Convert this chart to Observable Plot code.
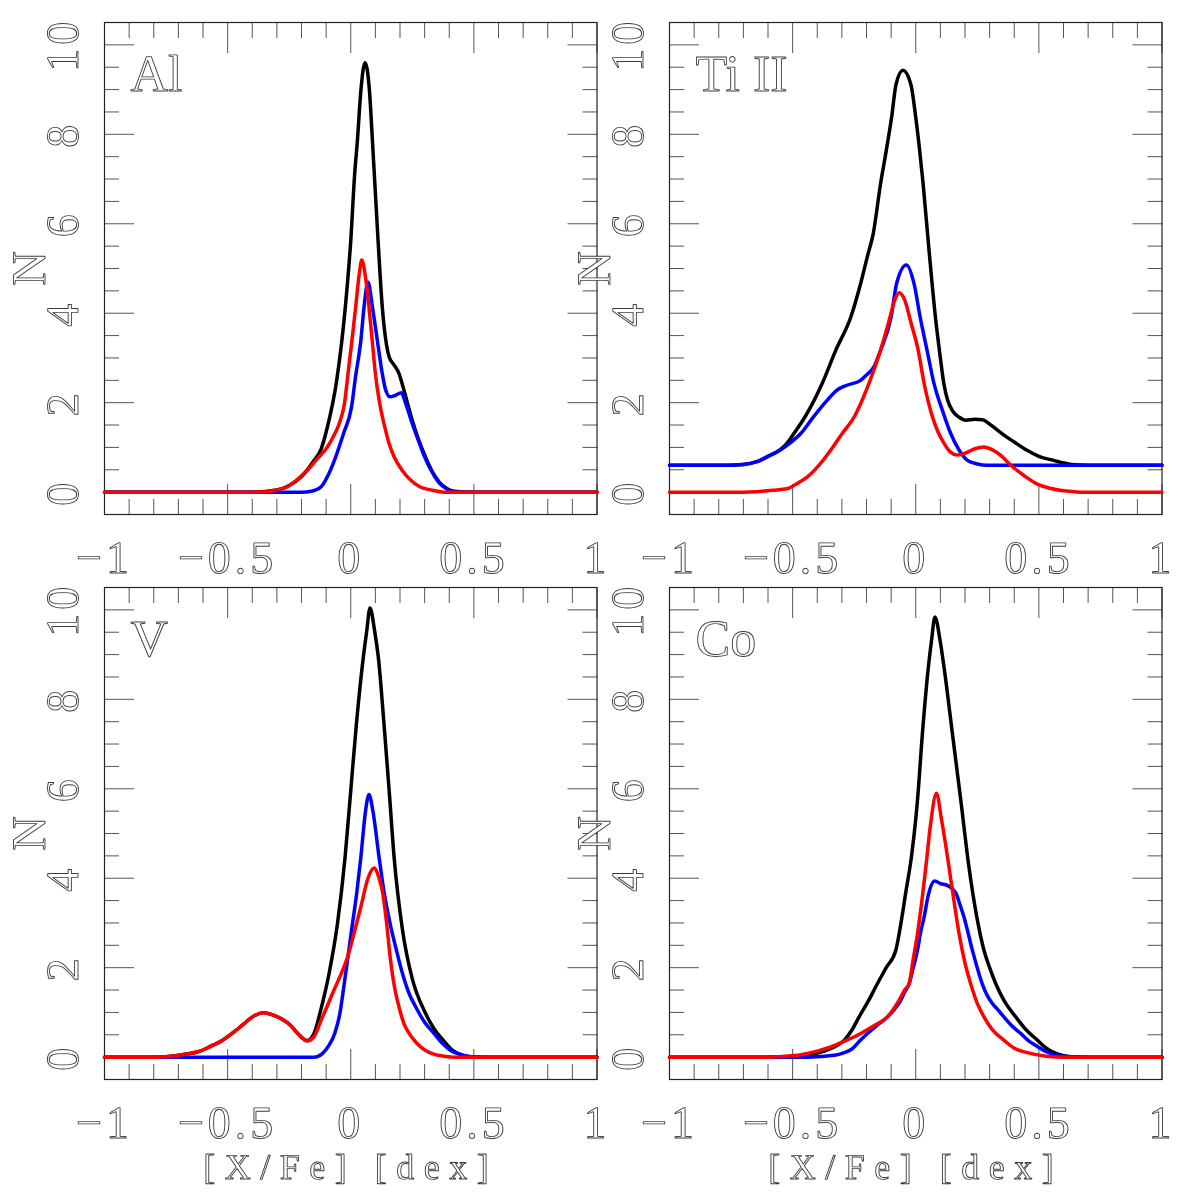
<!DOCTYPE html>
<html>
<head>
<meta charset="utf-8">
<script src="https://cdn.jsdelivr.net/npm/d3@7"></script>
<script src="https://cdn.jsdelivr.net/npm/@observablehq/plot@0.6"></script>
<style>
  body { margin: 0; background: #fff; }
  #chart { position: relative; width: 1181px; height: 1197px; background: #fff; }
  #chart svg { position: absolute; overflow: visible; will-change: transform; }
  #chart svg text { text-rendering: geometricPrecision; }
</style>
</head>
<body>
<div id="chart"></div>
<script>
// ---- tick values ----
const xMajor = [-1, -0.5, 0, 0.5, 1];
const xMinor = [-0.9, -0.8, -0.7, -0.6, -0.4, -0.3, -0.2, -0.1, 0.1, 0.2, 0.3, 0.4, 0.6, 0.7, 0.8, 0.9];
const yMajor = [0, 2, 4, 6, 8, 10];
const yMinor = [-0.5, 0.5, 1, 1.5, 2.5, 3, 3.5, 4.5, 5, 5.5, 6.5, 7, 7.5, 8.5, 9, 9.5, 10.5];
const panelLabels = ["Al", "Ti II", "V", "Co"];
const yTitle = "N";
const xTitle = "[X/Fe] [dex]";

// ---- Al ----
const alBlack = [[-1,0],[-0.4,0],[-0.3,0.05],[-0.25,0.15],[-0.2,0.35],[-0.15,0.7],[-0.12,0.97],[-0.095,1.45],[-0.057,2.5],[-0.022,4.14],[0,5.62],[0.016,7.12],[0.027,7.86],[0.041,8.97],[0.058,9.6],[0.076,8.97],[0.088,7.86],[0.111,5.62],[0.128,4.14],[0.145,3.3],[0.156,3.02],[0.175,2.85],[0.196,2.65],[0.215,2.3],[0.23,2.0],[0.25,1.6],[0.275,1.18],[0.3,0.83],[0.33,0.47],[0.36,0.22],[0.39,0.08],[0.42,0.02],[0.5,0],[1,0]];
const alBlue = [[-1,0],[-0.2,0],[-0.16,0.02],[-0.12,0.12],[-0.09,0.4],[-0.061,0.79],[-0.03,1.3],[0.003,1.9],[0.02,2.6],[0.041,3.39],[0.054,4.14],[0.07,4.7],[0.088,4.14],[0.108,3.39],[0.128,2.65],[0.142,2.28],[0.16,2.13],[0.18,2.16],[0.205,2.22],[0.225,1.95],[0.25,1.53],[0.275,1.15],[0.3,0.79],[0.33,0.45],[0.36,0.2],[0.39,0.07],[0.42,0],[1,0]];
const alRed = [[-1,0],[-0.4,0],[-0.34,0.01],[-0.3,0.05],[-0.257,0.12],[-0.22,0.27],[-0.176,0.49],[-0.14,0.72],[-0.095,1.01],[-0.07,1.25],[-0.047,1.53],[-0.025,2.0],[-0.011,2.65],[0.005,3.4],[0.02,4.14],[0.035,4.9],[0.045,5.19],[0.06,4.8],[0.074,4.14],[0.087,3.4],[0.1,2.65],[0.117,2.0],[0.135,1.53],[0.155,1.1],[0.176,0.79],[0.21,0.48],[0.243,0.27],[0.28,0.12],[0.325,0.05],[0.38,0],[1,0]];

// ---- Ti II ----
const tiBlack = [[-1,0.6],[-0.8,0.6],[-0.7,0.62],[-0.645,0.68],[-0.6,0.8],[-0.55,0.95],[-0.523,1.09],[-0.49,1.35],[-0.45,1.68],[-0.38,2.43],[-0.325,3.17],[-0.264,3.91],[-0.224,4.66],[-0.195,5.3],[-0.173,5.77],[-0.143,6.89],[-0.12,7.63],[-0.098,8.38],[-0.08,9.12],[-0.052,9.43],[-0.02,9.12],[0,8.38],[0.016,7.63],[0.03,6.89],[0.054,5.4],[0.08,3.91],[0.1,3.0],[0.114,2.43],[0.13,2.05],[0.148,1.83],[0.175,1.68],[0.203,1.61],[0.24,1.63],[0.27,1.62],[0.31,1.48],[0.35,1.31],[0.4,1.12],[0.45,0.94],[0.5,0.8],[0.56,0.71],[0.62,0.63],[0.7,0.6],[1,0.6]];
const tiBlue = [[-1,0.6],[-0.8,0.6],[-0.7,0.62],[-0.645,0.68],[-0.6,0.8],[-0.55,0.94],[-0.51,1.1],[-0.467,1.31],[-0.42,1.65],[-0.36,2.05],[-0.32,2.28],[-0.28,2.39],[-0.224,2.5],[-0.2,2.62],[-0.17,2.8],[-0.143,3.17],[-0.1,3.91],[-0.078,4.66],[-0.038,5.08],[-0.007,4.66],[0.018,3.91],[0.046,3.17],[0.074,2.43],[0.11,1.8],[0.142,1.31],[0.175,0.95],[0.21,0.71],[0.25,0.63],[0.29,0.6],[1,0.6]];
const tiRed = [[-1,0],[-0.7,0],[-0.645,0.01],[-0.58,0.04],[-0.52,0.08],[-0.48,0.2],[-0.44,0.34],[-0.39,0.62],[-0.345,0.94],[-0.3,1.3],[-0.25,1.68],[-0.19,2.43],[-0.143,3.17],[-0.11,3.8],[-0.085,4.3],[-0.068,4.46],[-0.045,4.3],[-0.02,3.8],[0.01,3.17],[0.034,2.43],[0.068,1.68],[0.09,1.35],[0.115,1.09],[0.14,0.9],[0.168,0.83],[0.2,0.87],[0.24,0.97],[0.276,1.01],[0.31,0.95],[0.35,0.8],[0.386,0.6],[0.44,0.37],[0.49,0.19],[0.55,0.08],[0.6,0.03],[0.7,0],[1,0]];

// ---- V ----
const vBlack = [[-1,0],[-0.8,0],[-0.73,0.02],[-0.68,0.06],[-0.62,0.12],[-0.57,0.24],[-0.52,0.38],[-0.47,0.58],[-0.433,0.75],[-0.39,0.93],[-0.354,0.99],[-0.32,0.95],[-0.28,0.85],[-0.243,0.7],[-0.21,0.5],[-0.178,0.37],[-0.149,0.53],[-0.122,1.05],[-0.088,1.87],[-0.054,2.98],[-0.023,4.47],[0,5.96],[0.023,7.45],[0.051,8.94],[0.065,9.53],[0.078,10.04],[0.097,9.53],[0.112,8.94],[0.135,7.45],[0.156,5.96],[0.176,4.47],[0.21,2.85],[0.25,1.75],[0.3,1.02],[0.34,0.62],[0.372,0.4],[0.41,0.17],[0.44,0.07],[0.487,0.01],[0.55,0],[1,0]];
const vBlue = [[-1,0],[-0.15,0],[-0.115,0.08],[-0.09,0.25],[-0.065,0.53],[-0.045,0.95],[-0.03,1.5],[-0.01,2.3],[0.007,2.98],[0.025,3.7],[0.041,4.47],[0.06,5.5],[0.074,5.87],[0.09,5.5],[0.115,4.47],[0.135,3.7],[0.16,2.98],[0.185,2.4],[0.21,1.87],[0.235,1.45],[0.264,1.12],[0.3,0.78],[0.338,0.53],[0.37,0.32],[0.406,0.15],[0.44,0.07],[0.473,0.02],[0.52,0],[1,0]];
const vRed = [[-1,0],[-0.8,0],[-0.73,0.02],[-0.68,0.06],[-0.62,0.12],[-0.57,0.24],[-0.52,0.38],[-0.47,0.58],[-0.433,0.75],[-0.39,0.93],[-0.354,0.99],[-0.32,0.95],[-0.28,0.85],[-0.243,0.7],[-0.21,0.5],[-0.178,0.36],[-0.15,0.45],[-0.122,0.8],[-0.095,1.15],[-0.068,1.5],[-0.04,1.85],[-0.013,2.24],[0.015,2.8],[0.041,3.36],[0.07,4.0],[0.095,4.23],[0.115,4.0],[0.128,3.72],[0.146,2.98],[0.16,2.24],[0.18,1.5],[0.196,1.12],[0.216,0.75],[0.237,0.53],[0.27,0.3],[0.304,0.15],[0.34,0.06],[0.378,0.02],[0.43,0],[1,0]];

// ---- Co ----
const coBlack = [[-1,0],[-0.6,0],[-0.466,0.03],[-0.4,0.09],[-0.358,0.16],[-0.32,0.26],[-0.29,0.38],[-0.26,0.6],[-0.23,0.9],[-0.19,1.28],[-0.156,1.64],[-0.12,2.0],[-0.081,2.39],[-0.06,3.0],[-0.04,3.7],[-0.017,4.5],[0.007,5.74],[0.027,7.23],[0.051,8.71],[0.064,9.31],[0.078,9.84],[0.099,9.31],[0.115,8.71],[0.149,7.23],[0.183,5.74],[0.216,4.25],[0.248,3.13],[0.277,2.39],[0.3,2.0],[0.325,1.64],[0.36,1.25],[0.406,0.9],[0.45,0.6],[0.494,0.38],[0.53,0.2],[0.575,0.07],[0.63,0.01],[0.7,0],[1,0]];
const coBlue = [[-1,0],[-0.45,0],[-0.33,0.04],[-0.29,0.1],[-0.257,0.19],[-0.23,0.35],[-0.196,0.53],[-0.155,0.72],[-0.115,0.9],[-0.085,1.08],[-0.061,1.27],[-0.045,1.45],[-0.027,1.64],[-0.01,2.0],[0.007,2.39],[0.02,2.8],[0.034,3.13],[0.05,3.6],[0.077,3.94],[0.1,3.88],[0.128,3.84],[0.162,3.68],[0.18,3.4],[0.196,3.13],[0.23,2.39],[0.27,1.64],[0.29,1.38],[0.311,1.2],[0.335,1.05],[0.358,0.9],[0.39,0.7],[0.426,0.53],[0.46,0.36],[0.494,0.24],[0.53,0.12],[0.575,0.04],[0.63,0.01],[0.7,0],[1,0]];
const coRed = [[-1,0],[-0.6,0],[-0.48,0.04],[-0.41,0.12],[-0.345,0.23],[-0.28,0.38],[-0.223,0.53],[-0.17,0.7],[-0.115,0.9],[-0.068,1.27],[-0.045,1.5],[-0.027,1.64],[-0.01,2.2],[0.007,2.76],[0.025,3.5],[0.041,4.25],[0.06,5.2],[0.084,5.9],[0.105,5.3],[0.12,4.8],[0.135,4.25],[0.155,3.5],[0.176,2.76],[0.2,2.1],[0.223,1.64],[0.25,1.2],[0.277,0.9],[0.31,0.62],[0.358,0.38],[0.4,0.2],[0.453,0.1],[0.53,0.02],[0.6,0],[1,0]];

const fmtX = d => d === 0 ? "0" : (d < 0 ? "\u2212" : "") + Math.abs(d);
const textStyle = {fontFamily: "Liberation Serif", fill: "white", stroke: "#3a3a3a", strokeWidth: 0.9, paintOrder: "normal", opacity: 0.99};

function panel({label, black, blue, red, left, top, width, title}) {
  const svg = Plot.plot({
    width,
    height: title ? 632 : 584,
    marginLeft: 104, marginRight: width - 104 - 492.5, marginTop: 22, marginBottom: title ? 118 : 70,
    x: {domain: [-1, 1]},
    y: {domain: [-0.5, 10.5]},
    style: {background: "transparent", overflow: "visible", fontFamily: "Liberation Serif"},
    marks: [
      // inward ticks on all four sides
      Plot.axisX({ticks: xMinor, anchor: "bottom", tickSize: 15, dy: -15, tickFormat: () => "", stroke: "#555", label: null}),
      Plot.axisX({ticks: xMajor, anchor: "bottom", tickSize: 30, dy: -30, tickFormat: () => "", stroke: "#555", label: null}),
      Plot.axisX({ticks: xMinor, anchor: "top", tickSize: 15, dy: 15, tickFormat: () => "", stroke: "#555", label: null}),
      Plot.axisX({ticks: xMajor, anchor: "top", tickSize: 30, dy: 30, tickFormat: () => "", stroke: "#555", label: null}),
      Plot.axisY({ticks: yMinor, anchor: "left", tickSize: 15, dx: 15, tickFormat: () => "", stroke: "#555", label: null}),
      Plot.axisY({ticks: yMajor, anchor: "left", tickSize: 30, dx: 30, tickFormat: () => "", stroke: "#555", label: null}),
      Plot.axisY({ticks: yMinor, anchor: "right", tickSize: 15, dx: -15, tickFormat: () => "", stroke: "#555", label: null}),
      Plot.axisY({ticks: yMajor, anchor: "right", tickSize: 30, dx: -30, tickFormat: () => "", stroke: "#555", label: null}),
      Plot.frame({stroke: "#222", strokeWidth: 1.2}),
      // tick labels
      Plot.text(xMajor, {x: d => d, text: fmtX, frameAnchor: "bottom", dy: 58, lineAnchor: "bottom", fontSize: 46, ...textStyle}),
      Plot.text(yMajor, {y: d => d, text: d => String(d), frameAnchor: "left", dx: -41, rotate: -90, textAnchor: "middle", lineAnchor: "middle", fontSize: 46, ...textStyle}),
      Plot.text([yTitle], {text: d => d, frameAnchor: "left", dx: -75, rotate: -90, textAnchor: "middle", lineAnchor: "middle", fontSize: 48, ...textStyle}),
      Plot.text([label], {text: d => d, frameAnchor: "top-left", dx: 26, dy: 68, textAnchor: "start", lineAnchor: "bottom", fontSize: 52, ...textStyle}),
      title ? Plot.text([xTitle], {text: d => d, frameAnchor: "bottom", dy: 99, lineAnchor: "bottom", fontSize: 36, ...textStyle}) : null,
      // curves
      Plot.line(black, {x: d => d[0], y: d => d[1], stroke: "#000", strokeWidth: 3.5, curve: "monotone-x"}),
      Plot.line(blue, {x: d => d[0], y: d => d[1], stroke: "#0000ff", strokeWidth: 3.5, curve: "monotone-x"}),
      Plot.line(red, {x: d => d[0], y: d => d[1], stroke: "#ff0000", strokeWidth: 3.5, curve: "monotone-x"})
    ]
  });
  svg.style.left = left + "px";
  svg.style.top = top + "px";
  // Hershey-like wide letter spacing for numbers and axis title
  svg.querySelectorAll("text").forEach(t => {
    const s = t.textContent;
    if (s === xTitle) t.setAttribute("letter-spacing", "9.5");
    else if (/^[\u22120-9.]+$/.test(s)) t.setAttribute("letter-spacing", "4");
  });
  document.getElementById("chart").appendChild(svg);
}

panel({label: panelLabels[0], black: alBlack, blue: alBlue, red: alRed, left: 0, top: 0, width: 617, title: false});
panel({label: panelLabels[1], black: tiBlack, blue: tiBlue, red: tiRed, left: 565, top: 0, width: 616, title: false});
panel({label: panelLabels[2], black: vBlack, blue: vBlue, red: vRed, left: 0, top: 565, width: 617, title: true});
panel({label: panelLabels[3], black: coBlack, blue: coBlue, red: coRed, left: 565, top: 565, width: 616, title: true});
</script>
</body>
</html>
